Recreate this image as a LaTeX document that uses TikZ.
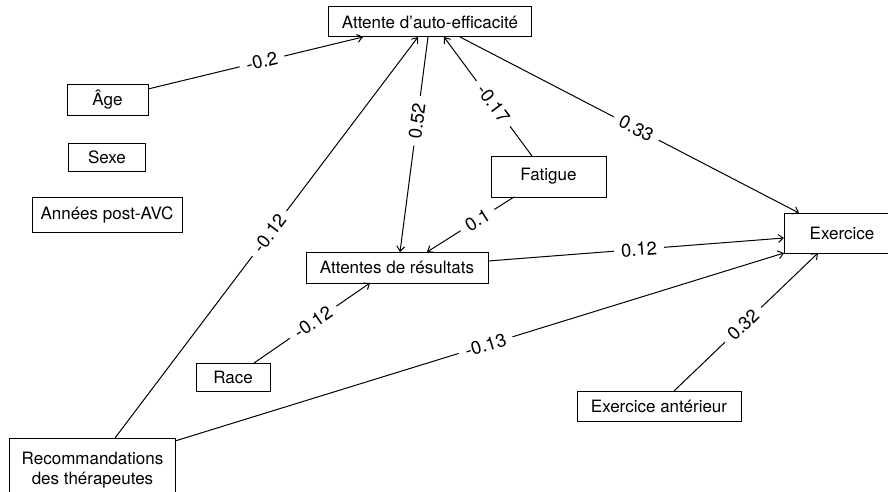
\documentclass[tikz,border=0pt]{standalone}
\usepackage{fontspec}
\setmainfont{TeX Gyre Heros}
\usetikzlibrary{arrows.meta}
\tikzset{
  box/.style={draw, line width=1pt, rectangle, inner sep=0pt, font=\fontsize{17}{20}\selectfont, align=center},
  link/.style={line width=1pt, -{Straight Barb[length=5pt,width=8pt]}},
  coef/.style={fill=white, inner xsep=7pt, inner ysep=1pt, sloped, font=\fontsize{18.5}{20}\selectfont},
}
\begin{document}
\begin{tikzpicture}[x=1pt,y=-1pt]
\useasboundingbox[fill=white] (0,0) rectangle (888,492);
% boxes (centre, size from the reference)
\node[box, minimum width=203pt, minimum height=30pt] (ae) at (430,22) {Attente d’auto-efficacité};
\node[box, minimum width=81pt, minimum height=31pt] (age) at (107.5,100) {Âge};
\node[box, minimum width=77pt, minimum height=28pt] (sexe) at (107,157) {Sexe};
\node[box, minimum width=150pt, minimum height=35pt] (annees) at (107,215) {Années post-AVC};
\node[box, minimum width=115pt, minimum height=41pt] (fatigue) at (548.5,176.5) {Fatigue};
\node[box, minimum width=116pt, minimum height=40pt] (ex) at (842,233) {Exercice};
\node[box, minimum width=182pt, minimum height=31pt] (atr) at (397,267.5) {Attentes de résultats};
\node[box, minimum width=74pt, minimum height=28pt] (race) at (233,377) {Race};
\node[box, minimum width=164pt, minimum height=30pt] (exa) at (659,406) {Exercice antérieur};
\node[box, minimum width=166pt, minimum height=64pt] (rec) at (92.5,470) {Recommandations\\des thérapeutes};
% anchor points on the boxes
\coordinate (age-o) at (148,89);
\coordinate (ae-i1) at (363,37);
\coordinate (rec-o1) at (115,438);
\coordinate (ae-i2) at (418,37);
\coordinate (ae-o1) at (428,37);
\coordinate (atr-i1) at (400,252);
\coordinate (fat-o1) at (532,156);
\coordinate (ae-i3) at (444,37);
\coordinate (ae-o2) at (460,37);
\coordinate (ex-i1) at (799,213);
\coordinate (fat-o2) at (514,197);
\coordinate (atr-i2) at (427,252);
\coordinate (atr-o) at (488,261);
\coordinate (ex-i2) at (784,238);
\coordinate (rec-o2) at (175,441);
\coordinate (ex-i3) at (784,253);
\coordinate (race-o) at (254,363);
\coordinate (atr-i3) at (370,283);
\coordinate (exa-o) at (674,391);
\coordinate (ex-i4) at (818,253);
% connectors
\draw[link] (age-o) -- node[coef, pos=0.53] {-0.2} (ae-i1);
\draw[link] (rec-o1) -- node[coef, pos=0.51] {-0.12} (ae-i2);
\draw[link] (ae-o1) -- node[coef, pos=0.39] {0.52} (atr-i1);
\draw[link] (fat-o1) -- node[coef, pos=0.44] {-0.17} (ae-i3);
\draw[link] (ae-o2) -- node[coef, pos=0.52] {0.33} (ex-i1);
\draw[link] (fat-o2) -- node[coef, pos=0.42] {0.1} (atr-i2);
\draw[link] (atr-o) -- node[coef, pos=0.51] {0.12} (ex-i2);
\draw[link] (rec-o2) -- node[coef, pos=0.51] {-0.13} (ex-i3);
\draw[link] (race-o) -- node[coef, pos=0.51] {-0.12} (atr-i3);
\draw[link] (exa-o) -- node[coef, pos=0.48] {0.32} (ex-i4);
\end{tikzpicture}
\end{document}
